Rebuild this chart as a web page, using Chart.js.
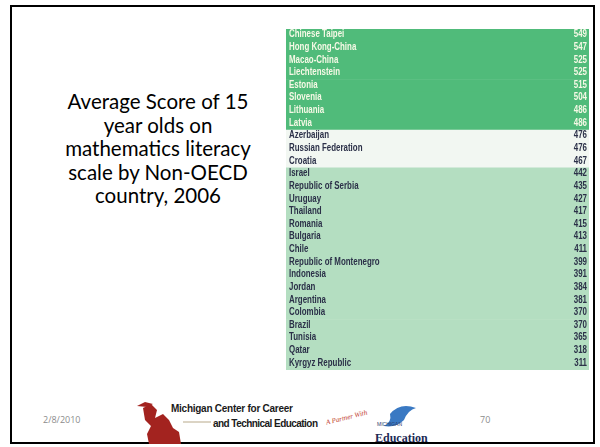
<!DOCTYPE html>
<html>
<head>
<meta charset="utf-8">
<script src="https://cdn.jsdelivr.net/npm/chart.js@4.4.0/dist/chart.umd.min.js"></script>
<style>
  html, body { margin: 0; padding: 0; background: #fff; }
  body { width: 600px; height: 447px; position: relative; overflow: hidden; }
  #frame { position: absolute; left: 10px; top: 5px; width: 581px; height: 435px; border: 2px solid #000; }
  #heading {
    position: absolute; left: 38px; top: 90px; width: 240px;
    font-family: Lato, 'Open Sans', sans-serif; font-size: 20.5px; line-height: 23.5px;
    text-align: center; color: #000;
  }
  #table { position: absolute; left: 286px; top: 29px; width: 303px; height: 341px; }
  .foot { position: absolute; top: 413px; font-family: 'Open Sans', sans-serif; font-size: 9px; color: #8c8c8c; }
  #logo { position: absolute; left: 135px; top: 398px; width: 300px; height: 46px; }
</style>
</head>
<body>
<div id="frame"></div>
<div id="heading">Average Score of 15<br>year olds on<br>mathematics literacy<br>scale by Non-OECD<br>country, 2006</div>
<div id="table"><canvas id="scores"></canvas></div>
<div class="foot" style="left:43px">2/8/2010</div>
<div class="foot" style="left:480px">70</div>
<svg id="logo" viewBox="0 0 300 46">
  <path d="M8 10 L16 6 L22 12 L20 20 L28 16 L34 22 L38 30 L44 34 L46 46 L14 46 L12 36 L16 28 L10 22 Z" fill="#a3231f"/>
  <path d="M2 8 L10 4 L18 6 L12 9 Z" fill="#a3231f"/>
  <text x="36" y="14" font-family="Liberation Sans, Arial, sans-serif" font-weight="bold" font-size="10" textLength="122" fill="#1a1a1a">Michigan Center for Career</text>
  <line x1="48" y1="24" x2="76" y2="24" stroke="#b8a98a" stroke-width="1"/>
  <text x="78" y="29" font-family="Liberation Sans, Arial, sans-serif" font-weight="bold" font-size="10" textLength="105" fill="#1a1a1a">and Technical Education</text>
  <text x="190" y="22" font-family="Liberation Serif, serif" font-style="italic" font-size="7" fill="#c0392b" transform="rotate(-14 210 18)">A Partner With</text>
  <path d="M255 16 Q265 4 281 10 Q273 12 269 22 Q261 30 249 28 Q257 24 255 16 Z" fill="#3a79c3"/>
  <text x="242" y="28" font-family="Liberation Sans, sans-serif" font-size="5" fill="#2a3a6a">MICHIGAN</text>
  <text x="240" y="44" font-family="Liberation Serif, serif" font-weight="bold" font-size="12" fill="#1c2a55">Education</text>
</svg>
<script>
// Non-OECD countries, mathematics literacy, PISA 2006
const countries = [
  'Chinese Taipei', 'Hong Kong-China', 'Macao-China', 'Liechtenstein', 'Estonia',
  'Slovenia', 'Lithuania', 'Latvia', 'Azerbaijan', 'Russian Federation', 'Croatia',
  'Israel', 'Republic of Serbia', 'Uruguay', 'Thailand', 'Romania', 'Bulgaria',
  'Chile', 'Republic of Montenegro', 'Indonesia', 'Jordan', 'Argentina', 'Colombia',
  'Brazil', 'Tunisia', 'Qatar', 'Kyrgyz Republic'
];
const scores = [
  549, 547, 525, 525, 515, 504, 486, 486, 476, 476, 467,
  442, 435, 427, 417, 415, 413, 411, 399, 391, 384, 381, 370,
  370, 365, 318, 311
];
// above / not different from / below the OECD average
const groups = [
  'above', 'above', 'above', 'above', 'above', 'above', 'above', 'above',
  'same', 'same', 'same',
  'below', 'below', 'below', 'below', 'below', 'below', 'below', 'below',
  'below', 'below', 'below', 'below', 'below', 'below', 'below', 'below'
];

const rowFill = { above: '#50bb7a', same: '#f2f7f2', below: '#b4dec1' };
const rowText = { above: '#f6f9e6', same: '#2b3048', below: '#2b3048' };

// condensed look: plain sans squeezed sideways
const squeeze = 0.72;
const rowFont = "bold 11px 'Liberation Sans', Arial, sans-serif";

// country names on the left of each band, scores on the right
const rowLabels = {
  id: 'rowLabels',
  afterDatasetsDraw(chart) {
    const { ctx, chartArea, scales: { y } } = chart;
    ctx.save();
    ctx.font = rowFont;
    ctx.textBaseline = 'middle';
    countries.forEach((name, i) => {
      const py = y.getPixelForValue(i) - 1;
      ctx.fillStyle = rowText[groups[i]];

      ctx.save();
      ctx.translate(chartArea.left + 3, py);
      ctx.scale(squeeze, 1);
      ctx.textAlign = 'left';
      ctx.fillText(name, 0, 0);
      ctx.restore();

      ctx.save();
      ctx.translate(chartArea.right - 2, py);
      ctx.scale(squeeze, 1);
      ctx.textAlign = 'right';
      ctx.fillText(String(scores[i]), 0, 0);
      ctx.restore();
    });
    ctx.restore();
  }
};

new Chart(document.getElementById('scores'), {
  type: 'bar',
  data: {
    labels: countries,
    datasets: [{
      // every row is one full-width band
      data: countries.map(() => 1),
      backgroundColor: groups.map(g => rowFill[g]),
      borderWidth: 0,
      barPercentage: 1,
      categoryPercentage: 1
    }]
  },
  plugins: [rowLabels],
  options: {
    indexAxis: 'y',
    responsive: true,
    maintainAspectRatio: false,
    animation: false,
    layout: { padding: 0 },
    plugins: {
      legend: { display: false },
      tooltip: { enabled: false }
    },
    scales: {
      x: { display: false, min: 0, max: 1 },
      y: { display: false, offset: true }
    }
  }
});
</script>
</body>
</html>
